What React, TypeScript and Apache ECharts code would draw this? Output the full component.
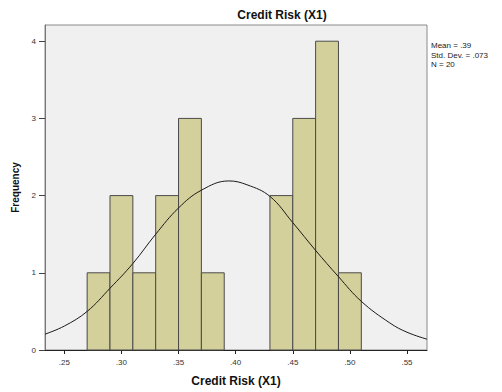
import React, { useEffect, useRef } from "react";
import * as echarts from "echarts";

const chartTitle = "Credit Risk (X1)";
const xAxisName = "Credit Risk (X1)";
const yAxisName = "Frequency";
const binWidth = 0.02;
const binStarts = [0.27, 0.29, 0.31, 0.33, 0.35, 0.37, 0.39, 0.41, 0.43, 0.45, 0.47, 0.49];
const counts = [1, 2, 1, 2, 3, 1, 0, 0, 2, 3, 4, 1];
const curveX = [0.2331, 0.25, 0.27, 0.29, 0.31, 0.33, 0.35, 0.37, 0.394, 0.41, 0.43, 0.45, 0.47, 0.49, 0.51, 0.535, 0.55, 0.5675];
const curveY = [0.205, 0.31, 0.5, 0.8, 1.12, 1.5, 1.84, 2.07, 2.19, 2.14, 1.99, 1.65, 1.29, 0.95, 0.63, 0.35, 0.23, 0.14];
const xTicks = [0.25, 0.3, 0.35, 0.4, 0.45, 0.5, 0.55];
const yTicks = [0, 1, 2, 3, 4];
const statsLines = ["Mean = .39", "Std. Dev. = .073", "N = 20"];

const FONT = 'Arial, "Liberation Sans", sans-serif';

export default function App() {
  const ref = useRef<HTMLDivElement>(null);
  useEffect(() => {
    if (!ref.current) return;
    const chart = echarts.init(ref.current, null, { renderer: "svg" });
    const barData = binStarts.map((s, i) => [s, counts[i]]);
    const curveData = curveX.map((x, i) => [x, curveY[i]]);
    chart.setOption({
      animation: false,
      backgroundColor: "#ffffff",
      textStyle: { fontFamily: FONT },
      grid: {
        left: 45,
        top: 25,
        right: 75,
        bottom: 38,
        show: true,
        backgroundColor: "#f0f0f0",
        borderColor: "#8a8a8a",
        borderWidth: 1,
      },
      xAxis: {
        type: "value",
        min: 0.2331,
        max: 0.5675,
        name: xAxisName,
        nameLocation: "middle",
        nameGap: 25,
        nameTextStyle: { fontSize: 12, fontWeight: "bold", color: "#111", fontFamily: FONT },
        axisLine: { show: true, lineStyle: { color: "#222", width: 1 } },
        axisTick: { show: true, length: 4, customValues: xTicks, lineStyle: { color: "#222" } },
        axisLabel: {
          customValues: xTicks,
          fontSize: 8,
          color: "#333",
          margin: 8,
          fontFamily: FONT,
          formatter: (v: number) => v.toFixed(2).replace(/^0/, ""),
        },
        splitLine: { show: false },
      },
      yAxis: {
        type: "value",
        min: 0,
        max: 4.21,
        name: yAxisName,
        nameLocation: "middle",
        nameGap: 23,
        nameTextStyle: { fontSize: 10, fontWeight: "bold", color: "#111", fontFamily: FONT },
        axisLine: { show: true, lineStyle: { color: "#777", width: 1 } },
        axisTick: { show: true, length: 6, customValues: yTicks, lineStyle: { color: "#444" } },
        axisLabel: { customValues: yTicks, fontSize: 8, color: "#333", margin: 9, fontFamily: FONT },
        splitLine: { show: false },
      },
      graphic: [
        {
          type: "text",
          x: 282,
          y: 15,
          style: {
            text: chartTitle,
            font: `bold 12px ${FONT}`,
            fill: "#111",
            textAlign: "center",
            textVerticalAlign: "middle",
          },
        },
        ...statsLines.map((t, i) => ({
          type: "text",
          x: 431,
          y: 45.7 + i * 9.5,
          style: {
            text: t,
            font: `8px ${FONT}`,
            fill: "#222",
            textAlign: "left",
            textVerticalAlign: "middle",
          },
        })),
      ],
      series: [
        {
          type: "custom",
          data: barData,
          renderItem: (params: any, api: any) => {
            const x0 = api.value(0);
            const c = api.value(1);
            if (!c) return null;
            const p1 = api.coord([x0, c]);
            const p2 = api.coord([x0 + binWidth, 0]);
            return {
              type: "rect",
              shape: { x: p1[0], y: p1[1], width: p2[0] - p1[0], height: p2[1] - p1[1] },
              style: { fill: "#d4d09b", stroke: "#4a4a4a", lineWidth: 1 },
            };
          },
          z: 2,
        },
        {
          type: "line",
          data: curveData,
          smooth: 0.4,
          symbol: "none",
          lineStyle: { color: "#1a1a1a", width: 1 },
          z: 3,
        },
      ],
    });
    return () => chart.dispose();
  }, []);
  return (
    <div
      ref={ref}
      style={{ position: "absolute", left: 0, top: 0, width: 502, height: 392, background: "#fff" }}
    />
  );
}
